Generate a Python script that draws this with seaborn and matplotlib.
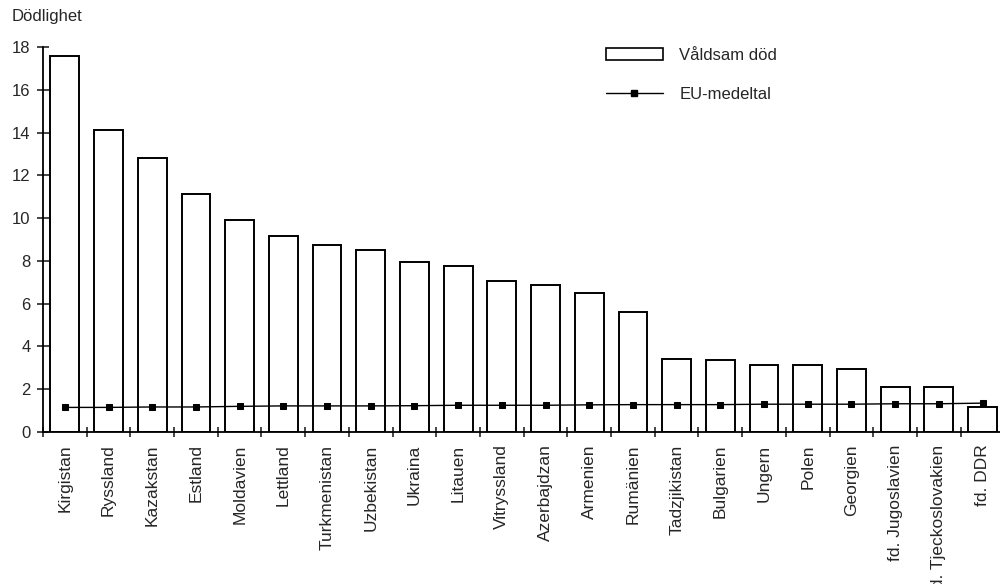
import matplotlib
matplotlib.use("Agg")
import matplotlib.pyplot as plt
import numpy as np
import pandas as pd
import seaborn as sns
from matplotlib.lines import Line2D
from matplotlib.patches import Patch

sns.set_theme(style="white")
plt.rcParams["font.family"] = ["Liberation Sans", "DejaVu Sans"]
plt.rcParams["font.size"] = 12
plt.rcParams["xtick.labelsize"] = 12.5
plt.rcParams["ytick.labelsize"] = 12
plt.rcParams["legend.fontsize"] = 12

# Violent death mortality per country, with the EU average for comparison
lander = [
    "Kirgistan", "Ryssland", "Kazakstan", "Estland", "Moldavien", "Lettland",
    "Turkmenistan", "Uzbekistan", "Ukraina", "Litauen", "Vitryssland",
    "Azerbajdzan", "Armenien", "Rumänien", "Tadzjikistan", "Bulgarien",
    "Ungern", "Polen", "Georgien", "fd. Jugoslavien", "fd. Tjeckoslovakien",
    "fd. DDR",
]
valdsam_dod = [
    17.6, 14.1, 12.8, 11.15, 9.9, 9.15, 8.75, 8.5, 7.95, 7.75, 7.05,
    6.85, 6.5, 5.6, 3.4, 3.35, 3.15, 3.15, 2.95, 2.1, 2.1, 1.15,
]
eu_medeltal = [
    1.15, 1.15, 1.17, 1.17, 1.2, 1.22, 1.22, 1.22, 1.23, 1.25, 1.25,
    1.25, 1.27, 1.28, 1.28, 1.28, 1.3, 1.3, 1.3, 1.32, 1.32, 1.35,
]

df = pd.DataFrame({"land": lander, "dod": valdsam_dod, "eu": eu_medeltal})

fig = plt.figure(figsize=(10, 5.84), dpi=100)
ax = fig.add_axes([0.043, 152 / 584, 0.957, 385 / 584])

sns.barplot(
    data=df, x="land", y="dod", color="white", edgecolor="black",
    linewidth=1.4, width=0.66, saturation=1, ax=ax,
)
sns.pointplot(
    data=df, x="land", y="eu", color="black", markers="s",
    markersize=4.5, linewidth=1, ax=ax,
)

ax.set_xlim(-0.5, 21.4)
ax.set_ylim(0, 18)
ax.set_yticks(np.arange(0, 19, 2))
ax.set_xlabel("")
ax.set_ylabel("")
ax.tick_params(axis="x", which="major", length=0, pad=9, labelrotation=90)
ax.set_xticks(np.arange(-0.5, 21.5, 1), minor=True)
ax.tick_params(axis="x", which="minor", length=7, width=1.2,
               direction="inout", bottom=True)
ax.tick_params(axis="y", length=8, width=1.2, direction="inout", left=True, pad=5)
for lbl in ax.get_xticklabels():
    lbl.set_verticalalignment("top")

sns.despine(ax=ax)
for side in ("left", "bottom"):
    ax.spines[side].set_color("black")
    ax.spines[side].set_linewidth(1.3)

fig.text(0.012, 1 - 9 / 584, "Dödlighet", ha="left", va="top")

handles = [
    Patch(facecolor="white", edgecolor="black", linewidth=1.2),
    Line2D([0], [0], color="black", linewidth=1, marker="s", markersize=4.5),
]
fig.legend(
    handles, ["Våldsam död", "EU-medeltal"], loc="upper left",
    bbox_to_anchor=(0.606, 1 - 48 / 584), frameon=False, borderpad=0,
    borderaxespad=0, handlelength=3.4, handletextpad=1.0, labelspacing=1.45,
)

fig.savefig("out.png", dpi=100)
